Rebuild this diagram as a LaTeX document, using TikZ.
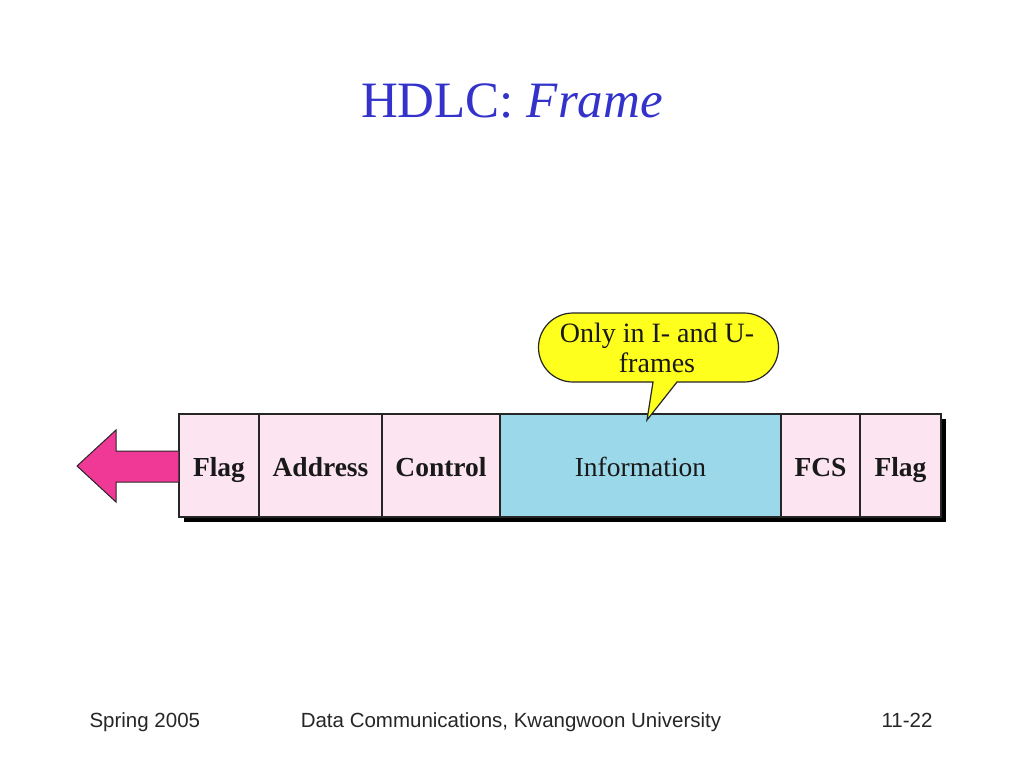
\documentclass[tikz,border=0pt]{standalone}
\usepackage{fontspec}
\setmainfont{Liberation Serif}
\newfontfamily\footfont{Liberation Sans}
\definecolor{titleblue}{RGB}{51,51,204}
\definecolor{cellpink}{RGB}{252,228,240}
\definecolor{infoblue}{RGB}{155,216,234}
\definecolor{arrowpink}{RGB}{240,56,150}
\definecolor{calloutyellow}{RGB}{255,255,30}
\begin{document}
\begin{tikzpicture}[x=1pt,y=-1pt,
  cell/.style={draw=black!85, line width=1.2pt, fill=cellpink, minimum height=103pt,
    inner sep=0pt, text height=21pt, text depth=0pt,
    font=\fontsize{27.5}{30}\selectfont\bfseries, text=black!90},
  infocell/.style={cell, fill=infoblue, font=\fontsize{27.5}{30}\selectfont},
  foot/.style={font=\footfont\fontsize{20.5}{22}\selectfont, text=black!85, anchor=base}]
\useasboundingbox (0,0) rectangle (1024,768);
\fill[white] (0,0) rectangle (1024,768);
% title
\node[text=titleblue, font=\fontsize{51}{56}\selectfont, anchor=base] (title) at (512,117) {HDLC: \textit{Frame}};
% shadow
\fill[black] (184,419) rectangle (946,522);
% cells
\node[cell, minimum width=80pt] (flagA) at (219,465.5) {Flag};
\node[cell, minimum width=123pt] (addr) at (320.5,465.5) {Address};
\node[cell, minimum width=118pt] (ctrl) at (441,465.5) {Control};
\node[infocell, minimum width=281pt] (info) at (640.5,465.5) {Information};
\node[cell, minimum width=79pt] (fcs) at (820.5,465.5) {FCS};
\node[cell, minimum width=81pt] (flagB) at (900.5,465.5) {Flag};
% arrow
\draw[fill=arrowpink, draw=black!85, line width=1pt, line join=miter]
  (flagA.west |- 0,451) -- (116,451) -- (116,430) -- (77,466) -- (116,502) -- (116,482) -- (flagA.west |- 0,482);
% callout
\coordinate (tip) at (647,420);
\draw[fill=calloutyellow, draw=black!85, line width=1.2pt]
  (573,313) -- (744,313) arc(-90:90:34.5) -- (677,382) -- (tip) -- (653,382) -- (573,382) arc(90:270:34.5) -- cycle;
\node[align=center, font=\fontsize{28}{30}\selectfont, text=black!90, inner sep=0pt] (callout) at (657,348) {Only in I- and U-\\frames};
% footer
\node[foot, anchor=base west] (f1) at (86,727) {Spring 2005};
\node[foot] (f2) at (511,727) {Data Communications, Kwangwoon University};
\node[foot, anchor=base east] (f3) at (936,727) {11-22};
\end{tikzpicture}
\end{document}
